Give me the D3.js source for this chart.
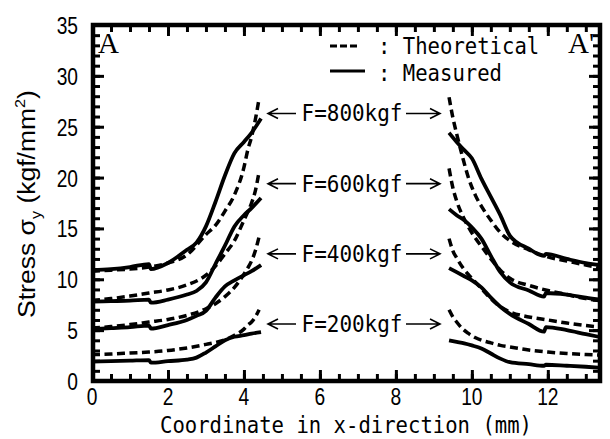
<!DOCTYPE html>
<html><head><meta charset="utf-8">
<script src="https://cdn.jsdelivr.net/npm/d3@7"></script>
<style>html,body{margin:0;padding:0;background:#fff;}</style>
</head><body>
<svg id="chart" width="610" height="439"></svg>
<script>
// ---------- data ----------
const xTicks = [0, 2, 4, 6, 8, 10, 12];
const yTicks = [0, 5, 10, 15, 20, 25, 30, 35];
const loads = ["F=800kgf", "F=600kgf", "F=400kgf", "F=200kgf"];
const loadLabelY = [26.3, 19.4, 12.5, 5.6];

// left side, theoretical
const leftTheoryX = [0, 0.5, 1, 1.5, 2, 2.5, 3, 3.25, 3.5, 3.75, 4, 4.1, 4.2, 4.3, 4.4];
const theory800L = [10.8, 10.9, 11.0, 11.2, 11.6, 12.4, 14.4, 15.3, 16.7, 18.3, 21.0, 22.7, 24.0, 25.7, 27.8];
const theory600L = [7.9, 8.1, 8.35, 8.65, 8.95, 9.45, 10.4, 11.3, 12.5, 13.8, 15.8, 16.6, 17.5, 18.7, 20.6];
const theory400L = [5.2, 5.35, 5.55, 5.8, 6.05, 6.45, 7.1, 7.6, 8.3, 9.2, 10.5, 11.1, 11.8, 12.8, 14.2];
const theory200L = [2.6, 2.65, 2.75, 2.85, 3.0, 3.25, 3.6, 3.8, 4.05, 4.5, 5.1, 5.5, 5.8, 6.3, 7.0];

// left side, measured
const leftMeasX = [0, 0.5, 1, 1.5, 1.55, 2, 2.5, 2.75, 3, 3.25, 3.5, 3.75, 4, 4.2, 4.45];
const meas800L = [10.9, 11.0, 11.2, 11.5, 11.0, 11.6, 12.9, 13.6, 15.2, 17.6, 20.2, 22.4, 23.5, 24.4, 25.8];
const meas600L = [7.8, 7.85, 7.9, 8.0, 7.7, 8.0, 8.5, 8.85, 9.7, 11.5, 13.3, 15.2, 16.3, 17.0, 18.0];
const meas400L = [5.1, 5.2, 5.3, 5.45, 5.15, 5.5, 6.0, 6.4, 6.9, 8.2, 9.3, 9.9, 10.4, 10.8, 11.4];
const meas200L = [1.9, 1.95, 2.0, 2.05, 1.8, 1.95, 2.1, 2.3, 2.8, 3.4, 4.0, 4.35, 4.5, 4.65, 4.8];

// right side, theoretical
const rightTheoryX = [9.4, 9.5, 9.6, 9.75, 9.9, 10.1, 10.3, 10.5, 10.75, 11, 11.5, 12, 12.5, 13, 13.4];
const theory800R = [27.9, 25.9, 24.3, 22.1, 20.1, 18.2, 16.9, 15.8, 14.6, 13.8, 12.9, 12.2, 11.8, 11.4, 11.1];
const theory600R = [20.9, 19.0, 17.7, 16.3, 15.2, 14.0, 13.0, 12.0, 10.9, 10.1, 9.4, 8.9, 8.5, 8.1, 7.9];
const theory400R = [14.0, 12.8, 12.1, 11.2, 10.5, 9.7, 8.9, 8.1, 7.3, 6.8, 6.3, 6.0, 5.7, 5.45, 5.3];
const theory200R = [7.0, 6.3, 5.8, 5.15, 4.7, 4.25, 3.95, 3.75, 3.5, 3.35, 3.05, 2.85, 2.7, 2.6, 2.55];

// right side, measured
const rightMeasX = [9.4, 9.6, 9.8, 10, 10.25, 10.5, 10.75, 11, 11.5, 11.9, 11.95, 12.5, 13, 13.4];
const meas800R = [24.4, 23.5, 22.7, 21.9, 19.9, 18.1, 16.3, 14.3, 13.0, 12.3, 12.5, 12.0, 11.6, 11.4];
const meas600R = [16.9, 16.3, 15.8, 15.1, 14.0, 12.3, 10.7, 9.7, 8.9, 8.3, 8.65, 8.5, 8.2, 8.0];
const meas400R = [11.1, 10.7, 10.3, 9.9, 9.2, 8.2, 7.3, 6.6, 5.6, 4.85, 5.3, 5.0, 4.6, 4.3];
const meas200R = [4.0, 3.85, 3.7, 3.5, 3.2, 2.7, 2.2, 1.85, 1.65, 1.5, 1.6, 1.5, 1.4, 1.3];

const legendLabels = [": Theoretical", ": Measured"];

// ---------- drawing ----------
const svg = d3.select("#chart");
svg.append("rect").attr("width", 610).attr("height", 439).attr("fill", "#fff");

const x = d3.scaleLinear().domain([0, 13.4]).range([92, 601]);
const y = d3.scaleLinear().domain([0, 35]).range([381, 25]);

const mono = "'DejaVu Sans Mono', 'Liberation Mono', monospace";
const sans = "'Liberation Sans', Arial, sans-serif";

// text squeezed horizontally to a target width (narrow, tall glyphs like the original)
function fitText(px, py, str, size, width, anchor, family) {
  const g = svg.append("g");
  const t = g.append("text").attr("x", 0).attr("y", 0)
    .attr("text-anchor", anchor).attr("font-family", family).attr("font-size", size).text(str);
  const w = t.node().getComputedTextLength();
  g.attr("transform", `translate(${px},${py}) scale(${width / w},1)`);
  return g;
}

const line = d3.line().x(d => x(d[0])).y(d => y(d[1])).curve(d3.curveMonotoneX);
const zip = (xs, ys) => xs.map((v, i) => [v, ys[i]]);

const series = [
  [leftTheoryX, theory800L, true], [leftTheoryX, theory600L, true],
  [leftTheoryX, theory400L, true], [leftTheoryX, theory200L, true],
  [leftMeasX, meas800L, false], [leftMeasX, meas600L, false],
  [leftMeasX, meas400L, false], [leftMeasX, meas200L, false],
  [rightTheoryX, theory800R, true], [rightTheoryX, theory600R, true],
  [rightTheoryX, theory400R, true], [rightTheoryX, theory200R, true],
  [rightMeasX, meas800R, false], [rightMeasX, meas600R, false],
  [rightMeasX, meas400R, false], [rightMeasX, meas200R, false]
];

const gLines = svg.append("g");
series.forEach(([xs, ys, dashed]) => {
  gLines.append("path")
    .attr("d", line(zip(xs, ys)))
    .attr("fill", "none")
    .attr("stroke", "#000")
    .attr("stroke-width", dashed ? 3.5 : 3.8)
    .attr("stroke-dasharray", dashed ? "8,4.5" : null)
    .attr("stroke-linejoin", "round");
});

// axes (ticks inward on all four sides)
const majorLen = 11, minorLen = 7;
function addAxis(axisGen, tx, ty) {
  const g = svg.append("g").attr("transform", `translate(${tx},${ty})`).call(axisGen);
  g.select(".domain").remove();
  g.selectAll("line").attr("stroke", "#000").attr("stroke-width", 3);
  g.selectAll("text").remove();
  return g;
}
const xMinor = d3.range(0, 13.4001, 0.5);
const yMinor = d3.range(0, 35.001, 1);
addAxis(d3.axisBottom(x).tickValues(xMinor).tickSize(-minorLen), 0, 381);
addAxis(d3.axisBottom(x).tickValues(xTicks).tickSize(-majorLen), 0, 381);
addAxis(d3.axisTop(x).tickValues(xMinor).tickSize(-minorLen), 0, 25);
addAxis(d3.axisTop(x).tickValues(xTicks).tickSize(-majorLen), 0, 25);
addAxis(d3.axisLeft(y).tickValues(yMinor).tickSize(-minorLen), 93, 0);
addAxis(d3.axisLeft(y).tickValues(yTicks).tickSize(-majorLen), 93, 0);
addAxis(d3.axisRight(y).tickValues(yMinor).tickSize(-minorLen), 600, 0);
addAxis(d3.axisRight(y).tickValues(yTicks).tickSize(-majorLen), 600, 0);

// frame
svg.append("rect").attr("x", 93).attr("y", 25).attr("width", 600 - 93).attr("height", 381 - 25)
  .attr("fill", "none").attr("stroke", "#000").attr("stroke-width", 4.5);

// tick labels
yTicks.forEach(v => {
  svg.append("text").attr("transform", `translate(78,${y(v) + 9}) scale(0.8,1)`)
    .attr("text-anchor", "end").attr("font-family", sans).attr("font-size", 24).text(v);
});
xTicks.forEach(v => {
  svg.append("text").attr("transform", `translate(${x(v)},405) scale(0.8,1)`)
    .attr("text-anchor", "middle").attr("font-family", sans).attr("font-size", 24).text(v);
});

// x axis title
fitText(346, 433, "Coordinate in x-direction (mm)", 23, 372, "middle", mono);

// y axis title
const yTitleG = svg.append("g");
const yTitle = yTitleG.append("text").attr("x", 0).attr("y", 0).attr("text-anchor", "middle")
  .attr("font-family", sans).attr("font-size", 23);
yTitle.append("tspan").text("Stress σ");
yTitle.append("tspan").attr("font-size", 14).attr("dy", 6).text("y");
yTitle.append("tspan").attr("dy", -6).text(" (kgf/mm");
yTitle.append("tspan").attr("font-size", 14).attr("dy", -10).text("2");
yTitle.append("tspan").attr("dy", 10).text(")");
const yw = yTitle.node().getComputedTextLength();
yTitleG.attr("transform", `translate(27,204) rotate(-90) scale(${228 / yw},1) translate(0,8)`);

// legend
svg.append("line").attr("x1", 330).attr("x2", 357).attr("y1", 46).attr("y2", 46)
  .attr("stroke", "#000").attr("stroke-width", 3).attr("stroke-dasharray", "7,3");
svg.append("line").attr("x1", 330).attr("x2", 365).attr("y1", 71).attr("y2", 71)
  .attr("stroke", "#000").attr("stroke-width", 3);
legendLabels.forEach((t, i) => {
  fitText(378, 54 + i * 27, t, 23, t.length * 12.4, "start", mono);
});

// A and A'
const serif = "'Liberation Serif', 'Times New Roman', serif";
svg.append("text").attr("x", 98).attr("y", 53).attr("font-family", serif).attr("font-size", 29).text("A");
svg.append("text").attr("x", 568).attr("y", 53).attr("font-family", serif).attr("font-size", 29).text("A'");

// load annotations with arrows
loads.forEach((t, i) => {
  const cy = y(loadLabelY[i]);
  fitText(352, cy + 8, t, 23, 101, "middle", mono);
  const g = svg.append("g").attr("stroke", "#000").attr("stroke-width", 1.6).attr("fill", "none");
  g.append("path").attr("d", `M268,${cy}H296 M278,${cy - 5}L268,${cy}L278,${cy + 5}`);
  g.append("path").attr("d", `M406,${cy}H440 M430,${cy - 5}L440,${cy}L430,${cy + 5}`);
});
</script>
</body></html>
